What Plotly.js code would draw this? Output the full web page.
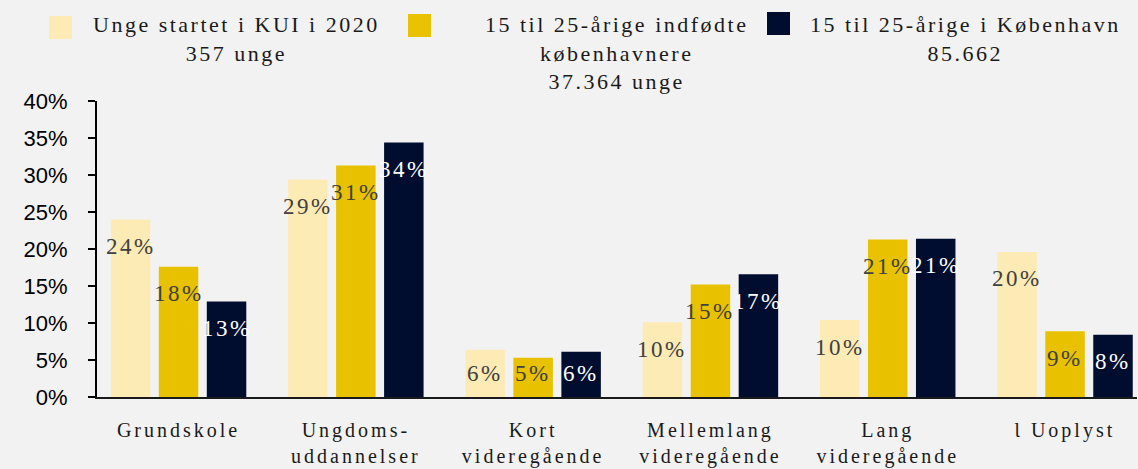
<!DOCTYPE html>
<html>
<head>
<meta charset="utf-8">
<script src="https://cdn.plot.ly/plotly-3.0.1.min.js"></script>
<style>
  html, body { margin: 0; padding: 0; background: #f2f2f2; }
  #chart { width: 1138px; height: 469px; }
  .annotation-text { letter-spacing: 2.5px; }
  .xtick text { letter-spacing: 3px; }
</style>
</head>
<body>
<div id="chart"></div>
<script>
// ---- data ----
const categories = ["Grundskole", "Ungdoms-<br>uddannelser", "Kort<br>videregående", "Mellemlang<br>videregående", "Lang<br>videregående", "Ɩ Uoplyst"];
const seriesNames = ["Unge startet i KUI i 2020<br>357 unge", "15 til 25-årige indfødte<br>københavnere<br>37.364 unge", "15 til 25-årige i København<br>85.662"];
const kui2020 = [24.0, 29.4, 6.4, 10.1, 10.4, 19.6];
const indfoedte = [17.6, 31.3, 5.3, 15.2, 21.3, 8.9];
const koebenhavn = [12.9, 34.4, 6.1, 16.6, 21.4, 8.4];
const yTickVals = [0, 5, 10, 15, 20, 25, 30, 35, 40];
const yTickText = ["0%", "5%", "10%", "15%", "20%", "25%", "30%", "35%", "40%"];

// ---- styles ----
const colors = ["#fdebb6", "#e8c100", "#000d2e"];
const labelColors = ["#404040", "#404040", "#ffffff"];
const serif = "Liberation Serif, DejaVu Serif, serif";
const sans = "Liberation Sans, Arial, sans-serif";
const bargap = 0.188;
const bargroupgap = 0.177;

const seriesValues = [kui2020, indfoedte, koebenhavn];
const xIdx = categories.map((c, i) => i);

const traces = seriesValues.map((vals, s) => ({
  type: "bar",
  x: xIdx,
  y: vals,
  name: seriesNames[s],
  marker: { color: colors[s] },
  hoverinfo: "skip"
}));

// bar value labels through data coordinates
const slot = (1 - bargap) / 3;
const annotations = [];
seriesValues.forEach((vals, s) => {
  vals.forEach((v, i) => {
    annotations.push({
      xref: "x", yref: "y",
      x: i + (s - 1) * slot,
      y: Math.max(v, 6.8),
      yshift: -27,
      text: Math.round(v) + "%",
      showarrow: false,
      xanchor: "center", yanchor: "middle",
      font: { family: serif, size: 23, color: labelColors[s] }
    });
  });
});

// legend (manual, centered multi-line text)
const W = 1138, H = 469, ml = 97, mr = 1, mt = 101, mb = 72;
const px = p => (p - ml) / (W - ml - mr);
const py = p => (H - mb - p) / (H - mt - mb);
const legendSwatches = [[49, 16], [408, 14], [767, 12]];
const legendTextX = [236, 616, 965];
const shapes = legendSwatches.map((sw, s) => ({
  type: "rect", xref: "paper", yref: "paper",
  x0: px(sw[0]), x1: px(sw[0] + 23), y0: py(sw[1] + 23), y1: py(sw[1]),
  fillcolor: colors[s], line: { width: 0 }
}));
seriesNames.forEach((n, s) => {
  annotations.push({
    xref: "paper", yref: "paper",
    x: px(legendTextX[s]), y: py(10),
    text: n, showarrow: false, align: "center",
    xanchor: "center", yanchor: "top",
    font: { family: serif, size: 22, color: "#1a1a1a" }
  });
});

const layout = {
  width: W, height: H,
  margin: { l: ml, r: mr, t: mt, b: mb, pad: 0 },
  paper_bgcolor: "#f2f2f2",
  plot_bgcolor: "#f2f2f2",
  barmode: "group",
  bargap: bargap,
  bargroupgap: bargroupgap,
  showlegend: false,
  xaxis: {
    type: "linear",
    range: [-0.46, 5.406],
    tickmode: "array",
    tickvals: xIdx,
    ticktext: categories,
    showgrid: false, zeroline: false,
    showline: true, linecolor: "#1a1a1a", linewidth: 2,
    ticks: "outside", ticklen: 14, tickcolor: "rgba(0,0,0,0)",
    tickfont: { family: serif, size: 20, color: "#1a1a1a" },
    fixedrange: true
  },
  yaxis: {
    range: [0, 40],
    tickmode: "array",
    tickvals: yTickVals,
    ticktext: yTickText,
    showgrid: false, zeroline: false,
    showline: true, linecolor: "#000000", linewidth: 2,
    ticks: "outside", ticklen: 7, tickwidth: 2, tickcolor: "#000000",
    ticklabelstandoff: 16,
    tickfont: { family: sans, size: 22, color: "#000000" },
    fixedrange: true
  },
  annotations: annotations,
  shapes: shapes
};

Plotly.newPlot("chart", traces, layout, { displayModeBar: false, staticPlot: true });
</script>
</body>
</html>
